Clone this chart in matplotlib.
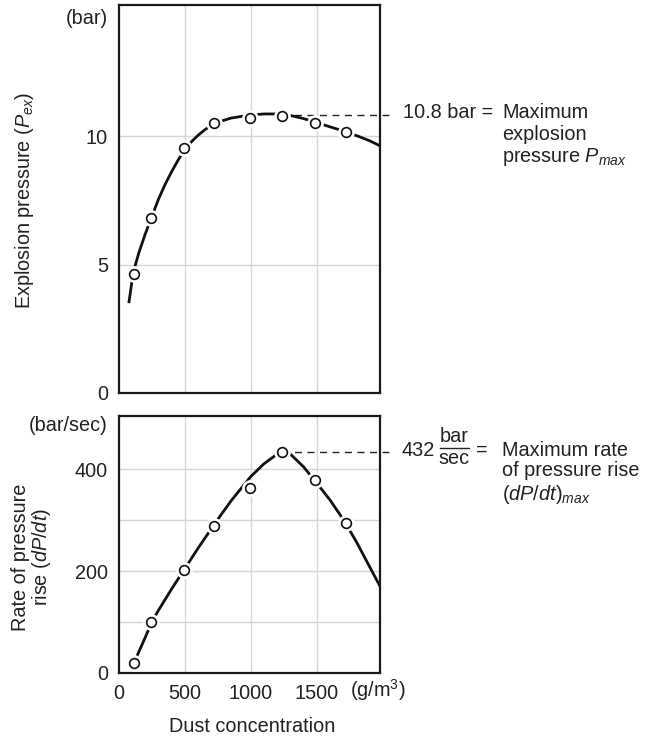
import matplotlib
matplotlib.use("Agg")
import matplotlib.pyplot as plt
from matplotlib.lines import Line2D

plt.rcParams['font.family'] = ['Liberation Sans', 'DejaVu Sans']
plt.rcParams['mathtext.fontset'] = 'custom'
plt.rcParams['mathtext.rm'] = 'Liberation Sans'
plt.rcParams['mathtext.it'] = 'Liberation Sans:italic'
plt.rcParams['mathtext.bf'] = 'Liberation Sans:bold'

# ---- data ----
conc_pts = [110, 245, 495, 720, 990, 1235, 1485, 1725]
pex_pts = [4.64, 6.82, 9.52, 10.49, 10.69, 10.78, 10.5, 10.16]
rate_pts = [20, 100, 202, 289, 364, 434, 380, 294]

pex_curve_x = [76, 100, 125, 150, 200, 250, 300, 350, 400, 450, 500, 550, 600,
               650, 700, 750, 850, 1000, 1100, 1200, 1300, 1400, 1500, 1600,
               1700, 1800, 1900, 1980]
pex_curve_y = [3.55, 4.4, 5.0, 5.45, 6.2, 6.88, 7.55, 8.12, 8.62, 9.08, 9.47,
               9.78, 10.03, 10.24, 10.41, 10.54, 10.7, 10.82, 10.86, 10.86,
               10.8, 10.68, 10.52, 10.36, 10.2, 10.02, 9.82, 9.62]

rate_curve_x = [135, 200, 250, 300, 400, 500, 600, 750, 850, 1000, 1100, 1200,
                1250, 1300, 1400, 1500, 1600, 1700, 1800, 1900, 1980]
rate_curve_y = [32, 70, 100, 123, 165, 205, 245, 302, 338, 386, 411, 430,
                434, 430, 405, 373, 340, 302, 258, 209, 170]

pmax = 10.8
rate_max = 434
peak_conc = 1235

x_ticks = [0, 500, 1000, 1500]
x_labels = ['0', '500', '1000', '1500']
top_yticks = [0, 5, 10]
bot_yticks = [0, 200, 400]
bot_ygrid = [100, 200, 300, 400]

W, H = 648, 739
fig = plt.figure(figsize=(W / 100, H / 100), dpi=100)
TC = '#222222'
GRID = '#d6d6d6'
FS = 14.3


def fx(x):
    return x / W


def fy(y):
    return 1 - y / H


ax1 = fig.add_axes([fx(119), fy(393), fx(380) - fx(119), fy(5) - fy(393)])
ax2 = fig.add_axes([fx(119), fy(672.7), fx(380) - fx(119), fy(416) - fy(672.7)])

for ax in (ax1, ax2):
    ax.set_xlim(0, 1980)
    for s in ax.spines.values():
        s.set_linewidth(1.6)
        s.set_color('#1a1a1a')
    ax.tick_params(length=0, labelsize=FS, colors=TC, pad=8)
    for v in (500, 1000, 1500):
        ax.axvline(v, color=GRID, lw=1.0, zorder=0)

# top panel
ax1.set_ylim(0, 15.1)
ax1.set_yticks(top_yticks)
ax1.set_xticks([])
for v in (5, 10):
    ax1.axhline(v, color=GRID, lw=1.0, zorder=0)
ax1.plot(pex_curve_x, pex_curve_y, color='#111111', lw=2.0, zorder=2,
         solid_joinstyle='round')
ax1.plot(conc_pts, pex_pts, 'o', ms=11, mfc='white', mec='white', zorder=3)
ax1.plot(conc_pts, pex_pts, 'o', ms=7, mfc='white', mec='#111111', mew=1.2, zorder=4)
ax1.plot([peak_conc, 2080], [pmax, pmax], color='#222222', lw=1.0,
         dashes=(5, 4), clip_on=False, zorder=1)

# bottom panel
ax2.set_ylim(0, 505)
ax2.set_yticks(bot_yticks)
ax2.set_xticks(x_ticks)
ax2.set_xticklabels(x_labels)
for v in bot_ygrid:
    ax2.axhline(v, color=GRID, lw=1.0, zorder=0)
ax2.plot(rate_curve_x, rate_curve_y, color='#111111', lw=2.0, zorder=2,
         solid_joinstyle='round')
ax2.plot(conc_pts, rate_pts, 'o', ms=11, mfc='white', mec='white', zorder=3)
ax2.plot(conc_pts, rate_pts, 'o', ms=7, mfc='white', mec='#111111', mew=1.2, zorder=4)
ax2.plot([peak_conc, 2080], [rate_max, rate_max], color='#222222', lw=1.0,
         dashes=(5, 4), clip_on=False, zorder=1)

# unit labels
fig.text(fx(108), fy(18), '(bar)', ha='right', va='center', fontsize=FS, color=TC)
fig.text(fx(108), fy(425), '(bar/sec)', ha='right', va='center', fontsize=FS, color=TC)
fig.text(fx(350), fy(690), '(g/m$^3$)', ha='left', va='center', fontsize=FS, color=TC)

# axis labels
fig.text(fx(25), fy(200), 'Explosion pressure ($P_{ex}$)', rotation=90,
         ha='center', va='center', fontsize=FS, color=TC)
fig.text(fx(32), fy(557), 'Rate of pressure\nrise ($dP/dt$)', rotation=90,
         ha='center', va='center', fontsize=FS, color=TC, multialignment='center',
         linespacing=0.95)
fig.text(fx(252), fy(727), 'Dust concentration', ha='center', va='center',
         fontsize=FS, color=TC)

# right annotations (top)
fig.text(fx(403), fy(112), '10.8 bar =', ha='left', va='center', fontsize=FS, color=TC)
fig.text(fx(502), fy(112), 'Maximum', ha='left', va='center', fontsize=FS, color=TC)
fig.text(fx(502), fy(134), 'explosion', ha='left', va='center', fontsize=FS, color=TC)
fig.text(fx(502), fy(157), 'pressure $P_{max}$', ha='left', va='center', fontsize=FS, color=TC)

# right annotations (bottom)
fig.text(fx(402), fy(450), '432', ha='left', va='center', fontsize=FS, color=TC)
fig.text(fx(454), fy(437), 'bar', ha='center', va='center', fontsize=FS, color=TC)
fig.text(fx(454), fy(459), 'sec', ha='center', va='center', fontsize=FS, color=TC)
fig.add_artist(Line2D([fx(440), fx(469)], [fy(448), fy(448)], color=TC, lw=1.0))
fig.text(fx(476), fy(450), '=', ha='left', va='center', fontsize=FS, color=TC)
fig.text(fx(502), fy(450), 'Maximum rate', ha='left', va='center', fontsize=FS, color=TC)
fig.text(fx(502), fy(471), 'of pressure rise', ha='left', va='center', fontsize=FS, color=TC)
fig.text(fx(502), fy(494), '($dP/dt$)$_{max}$', ha='left', va='center', fontsize=FS, color=TC)

fig.savefig('out.png', dpi=100)
